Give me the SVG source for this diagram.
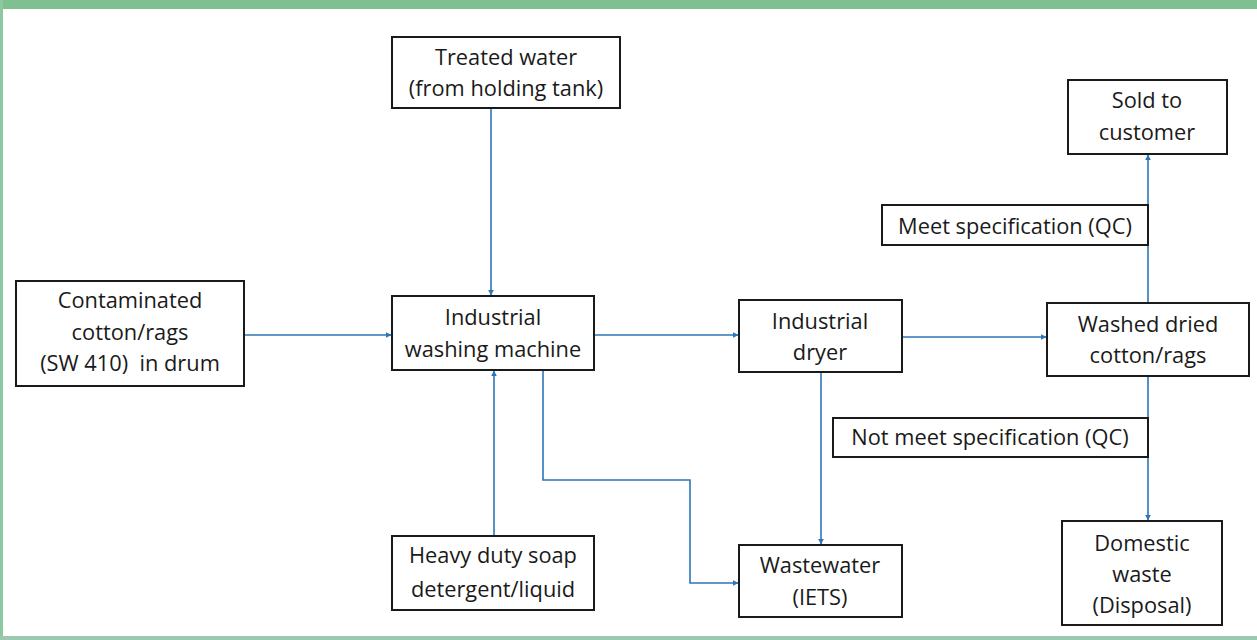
<svg xmlns="http://www.w3.org/2000/svg" width="1257" height="640" viewBox="0 0 1257 640">
<style>
.box{fill:#fff;stroke:#1a1a1a;stroke-width:2}
text{font-family:"Open Sans","Noto Sans",sans-serif;font-size:21.8px;fill:#1a1a1a;text-anchor:middle}
.c{fill:none;stroke:#2e75b6;stroke-width:1.6}
</style>
<defs>
<marker id="a" viewBox="0 0 10 10" refX="9" refY="5" markerWidth="6" markerHeight="6" orient="auto" markerUnits="userSpaceOnUse"><path d="M0,0L10,5L0,10z" fill="#2e75b6"/></marker>
</defs>
<rect width="1257" height="640" fill="#fff"/>
<rect x="0" y="0" width="1257" height="9" fill="#80c090"/>
<rect x="0" y="0" width="3" height="640" fill="#8cc8a0"/>
<rect x="0" y="636" width="1257" height="4" fill="#9cc8b0"/>
<g id="connectors">
<path class="c" d="M244,335H391" marker-end="url(#a)"/>
<path class="c" d="M491,108V295" marker-end="url(#a)"/>
<path class="c" d="M494,536V371" marker-end="url(#a)"/>
<path class="c" d="M594,335H738" marker-end="url(#a)"/>
<path class="c" d="M543,370V480H690V583H738" marker-end="url(#a)"/>
<path class="c" d="M821,372V544" marker-end="url(#a)"/>
<path class="c" d="M902,337H1046" marker-end="url(#a)"/>
<path class="c" d="M1148,303V155" marker-end="url(#a)"/>
<path class="c" d="M1148,376V520" marker-end="url(#a)"/>
</g>
<g id="treated"><rect class="box" x="392" y="37" width="228" height="71"/><text x="506" y="65">Treated water</text><text x="506" y="96">(from holding tank)</text></g>
<g id="contaminated"><rect class="box" x="16" y="281" width="228" height="105"/><text x="130" y="308">Contaminated</text><text x="130" y="340">cotton/rags</text><text x="130" y="371" xml:space="preserve">(SW 410)  in drum</text></g>
<g id="washing"><rect class="box" x="392" y="296" width="202" height="74"/><text x="493" y="325">Industrial</text><text x="493" y="357">washing machine</text></g>
<g id="dryer"><rect class="box" x="739" y="300" width="163" height="72"/><text x="820" y="329">Industrial</text><text x="820" y="360">dryer</text></g>
<g id="washed"><rect class="box" x="1047" y="303" width="202" height="73"/><text x="1148" y="332">Washed dried</text><text x="1148" y="363">cotton/rags</text></g>
<g id="sold"><rect class="box" x="1068" y="80" width="159" height="74"/><text x="1147" y="108">Sold to</text><text x="1147" y="140">customer</text></g>
<g id="meet"><rect class="box" x="882" y="205" width="266" height="40"/><text x="1015" y="234">Meet specification (QC)</text></g>
<g id="notmeet"><rect class="box" x="833" y="418" width="315" height="39"/><text x="990" y="445">Not meet specification (QC)</text></g>
<g id="domestic"><rect class="box" x="1062" y="521" width="160" height="104"/><text x="1142" y="551">Domestic</text><text x="1142" y="582">waste</text><text x="1142" y="613">(Disposal)</text></g>
<g id="soap"><rect class="box" x="392" y="536" width="202" height="74"/><text x="493" y="563">Heavy duty soap</text><text x="493" y="597">detergent/liquid</text></g>
<g id="wastewater"><rect class="box" x="739" y="545" width="163" height="72"/><text x="820" y="573">Wastewater</text><text x="820" y="605">(IETS)</text></g>
</svg>
